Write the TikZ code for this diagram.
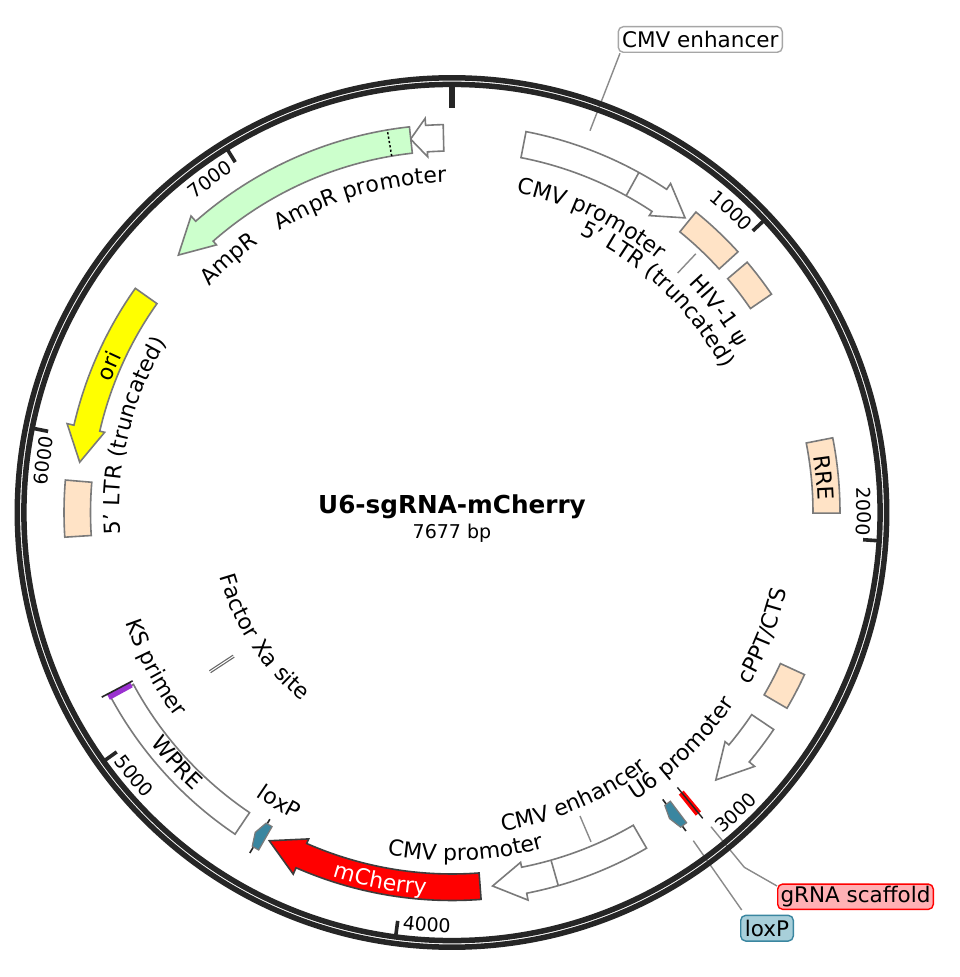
\documentclass[tikz,border=0pt]{standalone}
\usepackage{fontspec}
\setmainfont{DejaVu Sans}
\usetikzlibrary{decorations.text}
\tikzset{x=1pt,y=1pt,
  feat/.style={draw=featgray,line width=1.6pt,line join=miter},
  leader/.style={draw=leadgray,line width=1.4pt},
  tick/.style={draw=ringblack,line width=3.6pt},
  ring/.style={draw=ringblack,line width=5.5pt},
  lab/.style={font=\fontsize{21.5}{21.5}\selectfont,inner sep=0pt,rounded corners=5pt,line width=1.4pt,align=center}}
\definecolor{featgray}{HTML}{7A7A7A}
\definecolor{leadgray}{HTML}{8A8A8A}
\definecolor{ringblack}{HTML}{262626}
\definecolor{tan}{HTML}{FFE3C6}
\definecolor{ampgreen}{HTML}{CCFFCC}
\definecolor{oriyellow}{RGB}{255,255,0}
\definecolor{cherry}{RGB}{255,0,0}
\definecolor{teal}{HTML}{3A86A0}
\definecolor{lteal}{HTML}{A8CFDA}
\definecolor{lred}{HTML}{FFB0B4}
\definecolor{purp}{HTML}{9A30D0}
% angles are clockwise from the top
% box: style, th1, th2, rin, rout
\newcommand{\featbox}[5]{%
  \pgfmathsetmacro\pa{90-(#2)}\pgfmathsetmacro\pb{90-(#3)}%
  \path[#1] (\pa:#5) arc[start angle=\pa,end angle=\pb,radius=#5] -- (\pb:#4) arc[start angle=\pb,end angle=\pa,radius=#4] -- cycle;}
% arrow: style, th1, thbase, thtip
\newcommand{\featarrow}[4]{%
  \pgfmathsetmacro\pa{90-(#2)}\pgfmathsetmacro\pb{90-(#3)}\pgfmathsetmacro\pc{90-(#4)}%
  \path[#1] (\pa:388) arc[start angle=\pa,end angle=\pb,radius=388] -- (\pb:395) -- (\pc:375.7) -- (\pb:356.5) -- (\pb:361.5) arc[start angle=\pb,end angle=\pa,radius=361.5] -- cycle;}
% radial line: style, th, r1, r2
\newcommand{\radial}[4]{\path[#1] ({90-(#2)}:#3) -- ({90-(#2)}:#4);}
% pentagon site: style, flat th, shoulder th, tip th
\newcommand{\site}[4]{%
  \path[#1] ({90-(#2)}:362) -- ({90-(#3)}:362) -- ({90-(#4)}:375.5) -- ({90-(#3)}:389) -- ({90-(#2)}:389) -- cycle;}
% text clockwise (tops outward): centre th, baseline r, text
\newcommand{\cwtext}[4][black]{%
  \pgfmathsetmacro\pa{90-(#2)+70}\pgfmathsetmacro\pb{90-(#2)-70}%
  \path[decorate,decoration={text along path,text color=#1,text align=center,
     text={|\fontsize{22}{22}\selectfont|#4}}]
     (\pa:#3) arc[start angle=\pa,end angle=\pb,radius=#3];}
% text counterclockwise (tops inward)
\newcommand{\cctext}[4][black]{%
  \pgfmathsetmacro\pa{90-(#2)-70}\pgfmathsetmacro\pb{90-(#2)+70}%
  \path[decorate,decoration={text along path,text color=#1,text align=center,
     text={|\fontsize{22}{22}\selectfont|#4}}]
     (\pa:#3) arc[start angle=\pa,end angle=\pb,radius=#3];}
\newcommand{\cwnum}[3]{%
  \pgfmathsetmacro\pa{90-(#1)+30}\pgfmathsetmacro\pb{90-(#1)-30}%
  \path[decorate,decoration={text along path,text align=center,
     text={|\fontsize{19}{19}\selectfont|#3}}]
     (\pa:#2) arc[start angle=\pa,end angle=\pb,radius=#2];}
\newcommand{\ccnum}[3]{%
  \pgfmathsetmacro\pa{90-(#1)-30}\pgfmathsetmacro\pb{90-(#1)+30}%
  \path[decorate,decoration={text along path,text align=center,
     text={|\fontsize{19}{19}\selectfont|#3}}]
     (\pa:#2) arc[start angle=\pa,end angle=\pb,radius=#2];}
\begin{document}
\begin{tikzpicture}
\useasboundingbox (-452,512.5) rectangle (508,-464.5);
\fill[white] (-452,512.5) rectangle (508,-464.5);
% leaders (they pass under the backbone)
\coordinate (enhA) at (138,381.8);
\coordinate (enhB) at (168,459.2);
\draw[leader] (enhA) -- (enhB);
\radial{leader}{43.3}{329}{355.5}
\coordinate (low1) at (139,-329.3);
\coordinate (low2) at (128,-303.5);
\draw[leader] (low1) -- (low2);
\coordinate (sc1) at (259,-314.2);
\coordinate (sc2) at (292.3,-354.8);
\coordinate (sc3) at (325,-373.5);
\draw[leader] (sc1) -- (sc2) -- (sc3);
\coordinate (lx1) at (241.3,-328.2);
\coordinate (lx2) at (289.7,-397.5);
\draw[leader] (lx1) -- (lx2);
% backbone
\draw[ring] (0,0) circle[radius=434.7];
\draw[ring] (0,0) circle[radius=428.1];
% ticks
\radial{draw=ringblack,line width=5.4pt}{0}{404.5}{427}
\radial{tick}{46.89}{412}{427}
\radial{tick}{93.79}{412}{427}
\radial{tick}{187.57}{412}{427}
\radial{tick}{234.47}{412}{427}
\radial{tick}{281.36}{412}{427}
\radial{tick}{328.25}{412}{427}
% tick numbers
\cwnum{42.8}{405}{1000}
\cwnum{89.9}{405}{2000}
\ccnum{136.65}{420}{3000}
\ccnum{183.5}{420}{4000}
\ccnum{230.34}{420}{5000}
\cwnum{-82.7}{405}{6000}
\cwnum{-36}{405}{7000}
% features
\featarrow{feat,fill=white}{11}{33.6}{38.35}
\radial{feat}{28.8}{361.5}{388}
\featarrow{feat,fill=white}{-1.3}{-3.9}{-6.33}
\featarrow{feat,fill=ampgreen}{-6.3}{-41.35}{-46.75}
\radial{draw=black,line width=1.5pt,dash pattern=on 2.2pt off 2.2pt}{-9.6}{361.5}{388}
\featarrow{feat,fill=oriyellow}{-54.7}{-77}{-82.3}
\featbox{feat,fill=tan}{-85.2}{-93.65}{361.5}{388}
\featbox{feat,fill=tan}{39.07}{47.65}{361.5}{387}
\featbox{feat,fill=tan}{49.7}{55.65}{361.5}{387}
\featbox{feat,fill=tan}{78.9}{90.1}{361}{388}
\featbox{feat,fill=tan}{114.7}{120.3}{361.5}{388}
\featarrow{feat,fill=white}{124}{130}{135.4}
\featarrow{feat,fill=white}{149.9}{168.9}{173.8}
\radial{feat}{164.1}{361.5}{388}
\featarrow{draw=ringblack!90,line width=1.6pt,fill=cherry}{175.7}{203.7}{209.1}
\featbox{feat}{-118.35}{-146}{362}{388}
% sites
\radial{draw=ringblack,line width=1.6pt}{-149.3}{356.7}{396}
\site{draw=featgray,line width=1.2pt,fill=teal}{-150.2}{-149.1}{-148.4}
\radial{draw=ringblack,line width=1.6pt}{143.7}{356}{395.2}
\site{draw=featgray,line width=1.2pt,fill=teal}{142.9}{144}{144.6}
\featbox{fill=cherry}{140.2}{141.2}{362}{389}
\radial{draw=ringblack,line width=1.4pt}{140.65}{355.5}{395.5}
\featbox{fill=purp}{-117.8}{-118.7}{364}{390}
\radial{draw=ringblack,line width=1.6pt}{-117.8}{361}{396}
\radial{draw=black!60,line width=1.2pt,double=white,double distance=1pt}{-123.34}{261.4}{289.7}
% feature texts
\cwtext{25.3}{326}{CMV promoter}
\cwtext{43.3}{306}{5' LTR (truncated)}
\cwtext{53}{329}{HIV-1 ψ}
\cwtext{84.7}{366}{RRE}
\cctext{111.6}{344}{cPPT/CTS}
\cctext{135.8}{341}{U6 promoter}
\cctext{156.8}{322.5}{CMV enhancer}
\cctext{177.65}{348}{CMV promoter}
\cctext[white]{191}{383}{mCherry}
\cctext{210.8}{345}{loxP}
\cctext{227.66}{380}{WPRE}
\cctext{242.4}{344}{KS primer}
\cctext{236.5}{241}{Factor Xa site}
\cwtext{-16.2}{330}{AmpR promoter}
\cwtext{-41.4}{331.5}{AmpR}
\cwtext{-66.9}{365.5}{ori}
\cwtext{-76.5}{332.5}{5' LTR (truncated)}
% title
\node[font=\bfseries\fontsize{24.7}{24.7}\selectfont,inner sep=0pt] (title) at (0,6) {U6-sgRNA-mCherry};
\node[font=\fontsize{19}{19}\selectfont,inner sep=0pt] (size) at (0,-20.5) {7677 bp};
% callouts
\node[lab,draw=black!35,fill=white,minimum width=164pt,minimum height=25.6pt] (callA) at (248.3,473) {CMV enhancer};
\node[lab,draw=red,fill=lred,minimum width=155.6pt,minimum height=25.3pt] (callB) at (403.5,-384.2) {gRNA scaffold};
\node[lab,draw=teal,fill=lteal,minimum width=52.6pt,minimum height=25.7pt] (callC) at (315,-415.7) {loxP};
\end{tikzpicture}
\end{document}
